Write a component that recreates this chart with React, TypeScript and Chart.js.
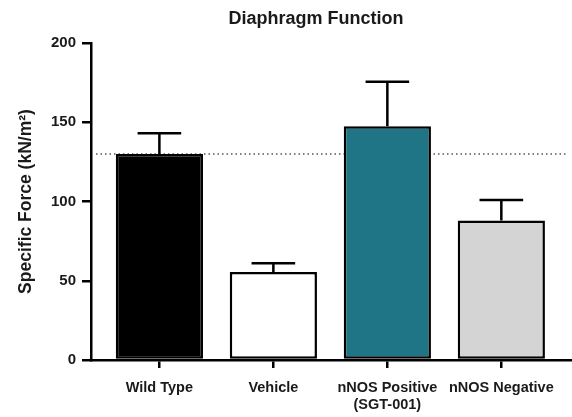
import React, { useEffect, useRef } from "react";
import { Chart, registerables } from "chart.js";

Chart.register(...registerables);

const categories = ["Wild Type", "Vehicle", "nNOS Positive\n(SGT-001)", "nNOS Negative"];
const means = [130, 55.5, 147.5, 88];
const sem = [13, 5.5, 28, 13];
const barColors = ["#000000", "#ffffff", "#1f7585", "#d4d4d4"];
const referenceLine = 130;
const yTicks = [0, 50, 100, 150, 200];
const chartTitle = "Diaphragm Function";
const yTitle = "Specific Force (kN/m²)";

const FONT = "Arial, 'Liberation Sans', Helvetica, sans-serif";

export default function App() {
  const ref = useRef<HTMLCanvasElement | null>(null);

  useEffect(() => {
    document.body.style.margin = "0";
    const canvas = ref.current;
    if (!canvas) return;

    const refLinePlugin = {
      id: "refLine",
      beforeDatasetsDraw(chart: any) {
        const { ctx, chartArea, scales } = chart;
        const y = scales.y.getPixelForValue(referenceLine);
        ctx.save();
        ctx.strokeStyle = "#555";
        ctx.lineWidth = 1.5;
        ctx.setLineDash([1.5, 3]);
        ctx.beginPath();
        ctx.moveTo(chartArea.left + 5, y);
        ctx.lineTo(chartArea.right - 4, y);
        ctx.stroke();
        ctx.restore();
      },
    };

    const errorBarPlugin = {
      id: "errorBars",
      afterDatasetsDraw(chart: any) {
        const { ctx, scales } = chart;
        const meta = chart.getDatasetMeta(0);
        ctx.save();
        ctx.strokeStyle = "#000";
        ctx.lineWidth = 2.5;
        meta.data.forEach((bar: any, i: number) => {
          const x = bar.x;
          const yTop = scales.y.getPixelForValue(means[i]);
          const yErr = scales.y.getPixelForValue(means[i] + sem[i]);
          const half = bar.width * 0.25;
          ctx.beginPath();
          ctx.moveTo(x, yTop);
          ctx.lineTo(x, yErr);
          ctx.moveTo(x - half, yErr);
          ctx.lineTo(x + half, yErr);
          ctx.stroke();
        });
        ctx.restore();
      },
    };

    const titlePlugin = {
      id: "customTitle",
      afterDraw(chart: any) {
        const { ctx } = chart;
        ctx.save();
        ctx.font = `bold 18px ${FONT}`;
        ctx.fillStyle = "#1a1a1a";
        ctx.textAlign = "center";
        ctx.textBaseline = "middle";
        ctx.fillText(chartTitle, 316, 19);
        ctx.restore();
      },
    };

    const chart = new Chart(canvas, {
      type: "bar",
      data: {
        datasets: [
          {
            data: means.map((v, i) => ({ x: i, y: v })),
            backgroundColor: barColors,
            borderColor: "#000",
            borderWidth: 2.5,
            borderSkipped: false,
            barPercentage: 0.765,
            categoryPercentage: 1,
          },
        ],
      },
      options: {
        animation: false,
        responsive: false,
        maintainAspectRatio: false,
        layout: { padding: { top: 43, right: 0, left: 0, bottom: 0 } },
        plugins: {
          legend: { display: false },
          tooltip: { enabled: false },
          title: { display: false },
        },
        scales: {
          x: {
            type: "linear",
            min: -0.6,
            max: 3.62,
            offset: false,
            afterBuildTicks: (axis: any) => {
              axis.ticks = categories.map((_, i) => ({ value: i }));
            },
            afterFit: (axis: any) => {
              axis.height = 57;
            },
            grid: {
              offset: false,
              drawOnChartArea: false,
              drawTicks: true,
              tickLength: 8,
              color: "#000",
              lineWidth: 2.5,
            },
            border: { display: true, color: "#000", width: 2.5 },
            ticks: {
              autoSkip: false,
              maxRotation: 0,
              padding: 11,
              color: "#1a1a1a",
              font: { family: FONT, size: 14.5, weight: "bold", lineHeight: 1.2 },
              callback: (v: any) => categories[Math.round(Number(v))].split("\n"),
            },
          },
          y: {
            min: 0,
            max: 200,
            afterBuildTicks: (axis: any) => {
              axis.ticks = yTicks.map((v) => ({ value: v }));
            },
            afterFit: (axis: any) => {
              axis.width = 91;
            },
            grid: {
              drawOnChartArea: false,
              drawTicks: true,
              tickLength: 9,
              color: "#000",
              lineWidth: 2.5,
            },
            border: { display: true, color: "#000", width: 2.5 },
            ticks: {
              padding: 6,
              color: "#1a1a1a",
              font: { family: FONT, size: 15, weight: "bold" },
            },
            title: {
              display: true,
              text: yTitle,
              color: "#1a1a1a",
              font: { family: FONT, size: 17.5, weight: "bold" },
              padding: { top: 16, bottom: 0 },
            },
          },
        },
      },
      plugins: [refLinePlugin, errorBarPlugin, titlePlugin],
    } as any);

    return () => chart.destroy();
  }, []);

  return (
    <div style={{ width: 572, height: 417 }}>
      <canvas ref={ref} width={572} height={417} style={{ width: 572, height: 417, display: "block" }} />
    </div>
  );
}
